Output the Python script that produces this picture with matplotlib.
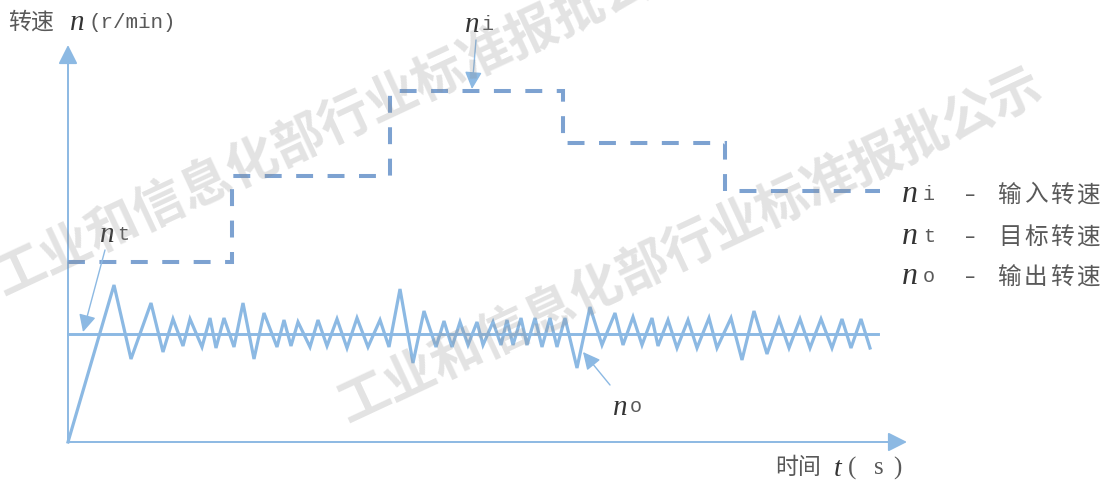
import matplotlib
matplotlib.use("Agg")
import matplotlib.pyplot as plt

# ---- data (time and speed in drawing units, origin at the axes corner) ----
# input speed n_i : stepwise profile
step_edges = [0, 164, 322, 495, 657, 812]
step_levels = [180, 266, 351, 299, 251]

# target speed n_t
target_level = 108
target_span = [0, 810]

# output speed n_o : ramp-up followed by oscillation around the target
out_t = [0, 46, 63, 83, 95, 105, 115, 122, 134, 142,
         148, 156, 166, 175, 186, 196, 209, 216, 223, 230,
         242, 250, 259, 269, 279, 289, 300, 312, 321, 332,
         345, 356, 368, 376, 384, 392, 400, 409, 415, 425,
         433, 439, 445, 453, 459, 467, 474, 482, 489, 497,
         509, 522, 534, 547, 555, 565, 574, 584, 590, 600,
         609, 620, 629, 641, 649, 663, 674, 686, 699, 711,
         721, 732, 742, 753, 764, 774, 783, 793, 802]
out_n = [0, 157, 83, 139, 90, 123, 96, 123, 95, 124,
         94, 124, 95, 139, 83, 129, 95, 122, 96, 120,
         95, 122, 96, 123, 94, 124, 95, 122, 95, 153,
         79, 131, 95, 121, 95, 120, 97, 120, 97, 120,
         97, 122, 97, 124, 97, 124, 95, 124, 95, 124,
         74, 135, 97, 129, 97, 125, 97, 124, 96, 122,
         94, 122, 94, 124, 94, 124, 82, 131, 88, 123,
         94, 123, 94, 123, 94, 123, 94, 123, 94]

axis_len_t = 839
axis_len_n = 397

legend_subs = ["i", "t", "o"]
legend_names = ["输入转速", "目标转速", "输出转速"]
watermark = "工业和信息化部行业标准报批公示"

# ---- styling ----
LIGHT = "#8cb9e3"
DASH = "#7da2d1"
TXT = "#595959"
CJK = "Noto Sans CJK SC"
SERIF = "Liberation Serif"
MONO = "Liberation Mono"

fig = plt.figure(figsize=(11.12, 4.84), dpi=100)
ax = fig.add_axes([0, 0, 1, 1])
ax.set_xlim(-68, 1044)
ax.set_ylim(-42, 442)
ax.axis("off")

# coordinate axes with arrow heads
axis_arrow = dict(arrowstyle="-|>,head_length=11.5,head_width=5.8", mutation_scale=1,
                  color=LIGHT, lw=1.4, shrinkA=0, shrinkB=0)
ax.annotate("", xy=(axis_len_t, 0), xytext=(0, 0), arrowprops=axis_arrow)
ax.annotate("", xy=(0, axis_len_n), xytext=(0, 0), arrowprops=axis_arrow)

# input speed: dashed step line
sx, sy = [], []
for i, lvl in enumerate(step_levels):
    sx += [step_edges[i], step_edges[i + 1]]
    sy += [lvl, lvl]
ax.plot(sx, sy, color=DASH, lw=2.9, linestyle=(0, (4.2, 3.6)),
        dash_capstyle="butt", dash_joinstyle="miter", zorder=3)

# target speed
ax.plot(target_span, [target_level, target_level], color=LIGHT, lw=2.1, zorder=3)

# output speed
ax.plot(out_t, out_n, color=LIGHT, lw=2.3, solid_joinstyle="miter", zorder=4)

# pointer annotations
ptr = dict(arrowstyle="-|>,head_length=10.5,head_width=5.2", mutation_scale=1,
           color=LIGHT, lw=1.0, shrinkA=0, shrinkB=0)
ax.annotate("", xy=(404, 353), xytext=(408, 402), arrowprops=ptr, zorder=5)
ax.annotate("", xy=(15, 110), xytext=(37, 192), arrowprops=ptr, zorder=5)
ax.annotate("", xy=(515, 90), xytext=(542, 57), arrowprops=ptr, zorder=5)


def n_label(t, n, sub, size=21, subsize=14.5, gap=17):
    ax.text(t, n, "n", fontfamily=SERIF, fontstyle="italic", fontsize=size,
            color="#333333", ha="left", va="center", zorder=6)
    ax.text(t + gap, n + 1, sub, fontfamily=MONO, fontsize=subsize,
            color=TXT, ha="left", va="center", zorder=6)


n_label(397, 417, "i")
n_label(32, 207, "t")
n_label(545, 34, "o")

# axis titles
ax.text(-60, 420, "转速", fontfamily=CJK, fontsize=16.5, color=TXT,
        ha="left", va="center")
ax.text(2, 419, "n", fontfamily=SERIF, fontstyle="italic", fontsize=21,
        color="#333333", ha="left", va="center")
ax.text(21, 420, "(r/min)", fontfamily=MONO, fontsize=15, color=TXT,
        ha="left", va="center")

ax.text(707, -26, "时间", fontfamily=CJK, fontsize=16.5, color=TXT,
        ha="left", va="center")
ax.text(766, -27, "t", fontfamily=SERIF, fontstyle="italic", fontsize=20,
        color="#333333", ha="left", va="center")
for tc, ch in [(784, "("), (811, "s"), (829, ")")]:
    ax.text(tc, -26, ch, fontfamily=SERIF, fontsize=18, color=TXT,
            ha="center", va="center")

# legend on the right
rows_n = [247, 205, 165]
for sub, name, rn in zip(legend_subs, legend_names, rows_n):
    n_label(834, rn, sub, size=23, gap=21)
    ax.text(902, rn, "–", fontfamily="DejaVu Sans", fontsize=15, color=TXT,
            ha="center", va="center")
    for k, ch in enumerate(name):
        ax.text(930 + 26 * k, rn, ch, fontfamily=CJK, fontsize=17, color=TXT,
                ha="left", va="center")

# diagonal watermark
for ct, cn in [(278, 324), (622, 197)]:
    ax.text(ct, cn, watermark, fontfamily=CJK, fontsize=37, fontweight="bold",
            color="#8a8a8a", alpha=0.24, rotation=25, rotation_mode="anchor",
            ha="center", va="center", zorder=10)

fig.savefig("out.png", dpi=100)
